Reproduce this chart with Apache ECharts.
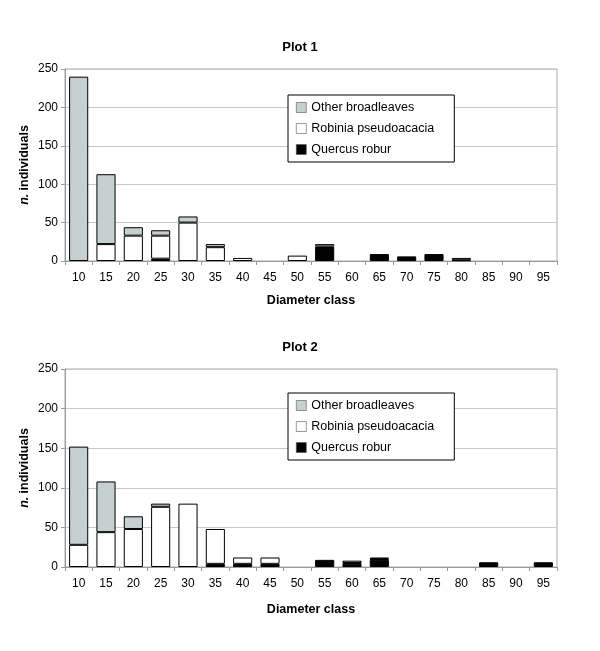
<!DOCTYPE html>
<html><head><meta charset="utf-8">
<script src="https://cdn.jsdelivr.net/npm/echarts@6/dist/echarts.min.js"></script>
<style>html,body{margin:0;padding:0;background:#fff}#c{width:600px;height:651px}</style>
</head><body><div id="c"></div>
<script>
const categories = ['10','15','20','25','30','35','40','45','50','55','60','65','70','75','80','85','90','95'];
const yTicks = [0, 50, 100, 150, 200, 250];
const seriesNames = ['Other broadleaves', 'Robinia pseudoacacia', 'Quercus robur'];
// Plot 1
const quercus1 = [0,0,0,3,0,0,0,0,0,19,0,9,6,9,0,0,0,0];
const robinia1 = [0,22,33,30,50,18,4,0,7,3,0,0,0,0,1,0,0,0];
const other1   = [240,91,11,7,8,4,0,0,0,0,0,0,0,0,3,0,0,0];
// Plot 2
const quercus2 = [0,0,0,0,0,4,4,4,0,9,4,9,0,0,0,6,0,6];
const robinia2 = [28,44,48,76,80,44,8,8,0,0,1,1,0,0,0,0,0,0];
const other2   = [124,64,16,4,0,0,0,0,0,0,3,2,0,0,0,0,0,0];

const FONT = '"Liberation Sans", Arial, sans-serif';
const colors = {'Other broadleaves':'#c5d0d0','Robinia pseudoacacia':'#ffffff','Quercus robur':'#000000'};
const nz = a => a.map(v => v === 0 ? null : v);

function xAxis(gi, gap){
  return {type:'category', gridIndex:gi, data:categories,
    name:'Diameter class', nameLocation:'middle', nameGap:gap,
    nameTextStyle:{fontFamily:FONT,fontSize:12.5,fontWeight:'bold',color:'#000'},
    axisLine:{lineStyle:{color:'#999',width:1}},
    axisTick:{show:true,interval:0,length:4,lineStyle:{color:'#999'}},
    axisLabel:{interval:0,margin:11,fontFamily:FONT,fontSize:12,color:'#000'}};
}
function yAxis(gi){
  return {type:'value', gridIndex:gi, min:0, max:250, interval:50,
    name:'{i|n.} {b|individuals}', nameLocation:'middle', nameGap:34, nameRotate:90,
    nameMoveOverlap:false,
    nameTextStyle:{rich:{i:{fontFamily:FONT,fontSize:12.5,fontWeight:'bold',fontStyle:'italic',color:'#000'},
                         b:{fontFamily:FONT,fontSize:12.5,fontWeight:'bold',color:'#000'}}},
    axisLine:{show:true,lineStyle:{color:'#999',width:1}},
    axisTick:{show:true,length:4,lineStyle:{color:'#999'}},
    splitLine:{show:true,lineStyle:{color:'#c8c8c8',width:1}},
    axisLabel:{margin:7,fontFamily:FONT,fontSize:12,color:'#000',
      formatter: v => yTicks.includes(v) ? String(v) : ''}};
}
function bar(name, data, gi){
  return {name:name, type:'bar', stack:'s'+gi, xAxisIndex:gi, yAxisIndex:gi,
    data:nz(data), barWidth:'70%',
    itemStyle:{color:colors[name], borderColor:'#000', borderWidth:1},
    emphasis:{disabled:true}};
}
function legend(top){
  return {orient:'vertical', left:288, top:top, width:170, data:seriesNames,
    backgroundColor:'#fff', borderColor:'#000', borderWidth:1,
    padding:[6,20,6,8], itemGap:8, itemWidth:10, itemHeight:10, icon:'rect',
    itemStyle:{borderWidth:0.6, borderColor:'#555'},
    textStyle:{fontFamily:FONT,fontSize:12.5,color:'#000'}, selectedMode:false};
}
const option = {
  animation:false,
  title:[
    {text:'Plot 1', left:'center', top:36, textStyle:{fontFamily:FONT,fontSize:13,fontWeight:'bold',color:'#000'}},
    {text:'Plot 2', left:'center', top:336, textStyle:{fontFamily:FONT,fontSize:13,fontWeight:'bold',color:'#000'}}
  ],
  legend:[legend(95), legend(393)],
  grid:[
    {left:65, right:43, top:69, height:192, show:true, borderColor:'#aaa', borderWidth:1, backgroundColor:'transparent'},
    {left:65, right:43, top:369, height:198, show:true, borderColor:'#aaa', borderWidth:1, backgroundColor:'transparent'}
  ],
  xAxis:[xAxis(0, 33), xAxis(1, 36)],
  yAxis:[yAxis(0), yAxis(1)],
  series:[
    bar('Quercus robur', quercus1, 0), bar('Robinia pseudoacacia', robinia1, 0), bar('Other broadleaves', other1, 0),
    bar('Quercus robur', quercus2, 1), bar('Robinia pseudoacacia', robinia2, 1), bar('Other broadleaves', other2, 1)
  ]
};
const chart = echarts.init(document.getElementById('c'), null, {renderer:'canvas'});
chart.setOption(option);
</script></body></html>
